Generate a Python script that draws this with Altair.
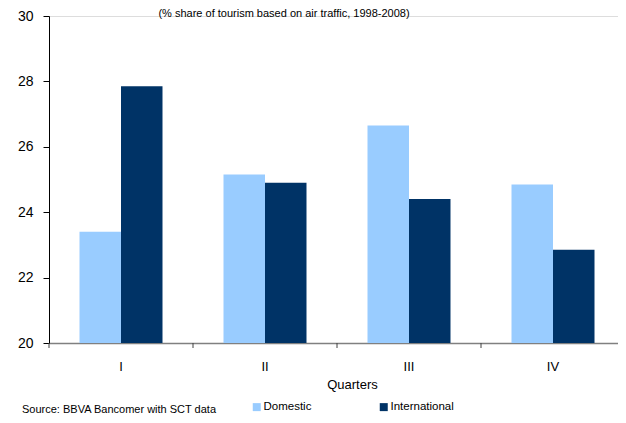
import altair as alt
import pandas as pd

quarters = ["I", "II", "III", "IV"]
domestic = [23.4, 25.15, 26.65, 24.85]
international = [27.85, 24.9, 24.4, 22.85]
series = ["Domestic", "International"]
colors = ["#99ccff", "#003366"]

rows = []
for q, d, i in zip(quarters, domestic, international):
    rows.append({"Quarter": q, "Series": "Domestic", "Value": d})
    rows.append({"Quarter": q, "Series": "International", "Value": i})
df = pd.DataFrame(rows)

FONT = "Liberation Sans"
W, H = 569, 327
XR = 576  # full axis length of the reference (partly beyond the window)

xscale = alt.Scale(domain=quarters, paddingInner=0, paddingOuter=0, range=[0, XR])

bars = alt.Chart(df).mark_bar().encode(
    x=alt.X("Quarter:N", scale=xscale, sort=quarters,
            axis=alt.Axis(title="Quarters", ticks=False, labelAngle=0,
                          labelFontSize=13, labelPadding=17, labelColor="black",
                          labelFont=FONT, domainColor="#808080", domainWidth=1.5,
                          titleFont=FONT, titleFontSize=13, titleFontWeight="normal",
                          titleColor="black", titleX=303, titleY=35,
                          titleBaseline="top", titleAlign="center")),
    xOffset=alt.XOffset("Series:N", sort=series,
                        scale=alt.Scale(paddingInner=0, paddingOuter=0.735)),
    y=alt.Y("Value:Q", scale=alt.Scale(domain=[20, 30], zero=False, nice=False),
            axis=alt.Axis(title=None, values=[20, 22, 24, 26, 28, 30], grid=False,
                          tickSize=6, tickColor="black", domainColor="black",
                          labelFontSize=14, labelFont=FONT, labelColor="black",
                          labelPadding=10)),
    y2=alt.datum(20),
    color=alt.Color("Series:N", sort=series,
                    scale=alt.Scale(domain=series, range=colors),
                    legend=alt.Legend(title=None, orient="none", direction="horizontal",
                                      legendX=202, legendY=385, symbolType="square",
                                      symbolSize=64, symbolStrokeWidth=0,
                                      labelFont=FONT, labelFontSize=11.5,
                                      labelColor="black", columnPadding=66,
                                      labelOffset=1)),
)

tick_df = pd.DataFrame({"Quarter": quarters})
ticks = alt.Chart(tick_df).mark_rule(color="#404040", strokeWidth=1).encode(
    x=alt.X("Quarter:N", scale=xscale, sort=quarters, bandPosition=0),
    y=alt.value(H),
    y2=alt.value(H + 5),
)
end_tick = alt.Chart(tick_df).mark_rule(color="#404040", strokeWidth=1).encode(
    x=alt.value(XR), y=alt.value(H), y2=alt.value(H + 5)
)

title_txt = alt.Chart(pd.DataFrame({"t": ["(% share of tourism based on air traffic, 1998-2008)"]})).mark_text(
    font=FONT, fontSize=11, baseline="top", align="center", color="black"
).encode(text="t:N", x=alt.value(235), y=alt.value(-8))

source_txt = alt.Chart(pd.DataFrame({"t": ["Source: BBVA Bancomer with SCT data"]})).mark_text(
    font=FONT, fontSize=11, baseline="alphabetic", align="left", color="black"
).encode(text="t:N", x=alt.value(-27), y=alt.value(397))

chart = alt.layer(bars, ticks, end_tick, title_txt, source_txt).properties(
    width=W, height=H,
    autosize=alt.AutoSizeParams(type="none"),
    padding={"left": 41, "top": 8, "right": 0, "bottom": 72},
).configure_view(stroke=None).configure(background="white")

chart.save("out.html", embed_options={"renderer": "svg", "actions": False})
